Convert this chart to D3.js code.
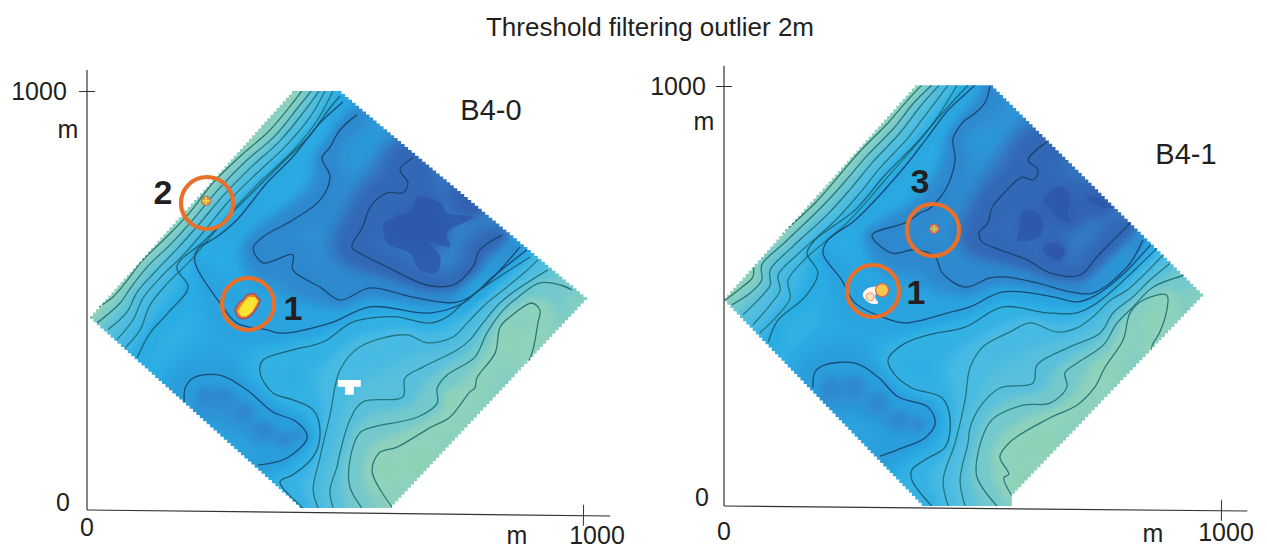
<!DOCTYPE html>
<html><head><meta charset="utf-8">
<script src="https://cdn.jsdelivr.net/npm/d3@7/dist/d3.min.js"></script>
<style>html,body{margin:0;background:#fff}svg{display:block}text{font-family:"Liberation Sans",Arial,sans-serif;fill:#231f20}</style>
</head><body><svg id="c" width="1267" height="549"></svg>
<script>
// ---------- Panel B4-0: isolines, in metres [x, y]
const a_E1=[[12,477],[52,508],[77,542],[113,597],[161,652],[208,711],[254,781],[308,843],[369,907],[415,972],[433,1000]];
const a_E2=[[20,446],[67,494],[89,532],[123,582],[171,637],[218,699],[264,764],[319,831],[379,893],[425,960],[452,1000]];
const a_E3=[[42,430],[81,473],[101,520],[137,568],[183,625],[228,685],[276,752],[329,816],[389,881],[437,950],[468,1000]];
const a_E4=[[60,406],[93,454],[113,506],[149,556],[196,611],[240,671],[288,740],[341,802],[401,869],[450,938],[480,1000]];
const a_E5=[[77,387],[107,430],[127,489],[163,542],[210,597],[254,659],[302,726],[353,788],[413,855],[462,926],[496,1000]];
const a_E6=[[101,363],[127,422],[163,470],[204,532],[181,580],[238,644],[308,728],[389,823],[450,895],[490,960],[510,988]];
const a_L6=[[516,974],[470,924],[415,843],[363,781],[302,692],[262,652],[222,621],[218,590],[268,494],[302,446],[363,430],[389,422],[490,446],[571,485],[691,470],[758,494],[818,556],[887,621]];
const a_L7=[[544,943],[510,907],[490,866],[474,840],[490,795],[470,740],[415,692],[355,652],[335,625],[355,590],[415,609],[415,573],[470,532],[510,501],[571,530],[657,508],[746,496],[798,532],[873,628]];
const a_L8=[[657,840],[631,812],[647,781],[637,757],[605,757],[571,723],[556,676],[534,628],[550,613],[605,580],[685,537],[738,537],[778,580],[792,621],[837,656]];
const a_L5=[[435,5],[389,67],[415,84],[456,127],[470,184],[456,239],[415,263],[375,279],[349,327],[355,358],[415,382],[476,401],[536,449],[597,461],[625,461],[691,446],[726,461],[772,508],[893,604]];
const a_L4=[[466,5],[456,48],[470,127],[490,227],[510,334],[550,389],[645,418],[685,399],[738,413],[766,446],[806,494],[839,525],[883,568],[909,597]];
const a_L3=[[496,5],[490,48],[504,103],[510,136],[530,215],[556,258],[637,270],[641,315],[677,341],[746,382],[772,406],[798,446],[839,501],[929,573]];
const a_L2=[[554,5],[530,55],[530,119],[550,184],[577,198],[667,222],[706,255],[706,291],[726,322],[782,365],[806,422],[839,477],[867,506],[913,542],[954,537],[978,525]];
const a_T=[[615,7],[575,91],[589,136],[625,150],[691,196],[732,222],[772,282],[782,291],[786,315],[823,375],[833,437],[853,461],[897,494],[913,477],[909,446],[899,382],[883,334]];
const a_D=[[345,107],[403,124],[444,174],[423,210],[375,234],[323,286],[268,322],[214,315],[198,291],[196,258]];
const a_outline=[[413,1000],[506,1000],[1008,501],[615,5],[435,5],[6,463]];
const a_seeds=[[16,470,.3],[26,496,.4],[127,625,.4],[228,757,.4],[329,888,.4],[409,990,.4],[732,263,.4],[853,406,.5],[671,119,.4],[601,100,.4],[984,501,1.5],[591,24,1.5],[671,716,8.4],[641,680,8.4],[691,656,8.4],[772,742,8.3],[238,274,7],[278,274,7],[319,239,7],[359,191,7],[399,167,7],[429,179,7]];
const a_patch=[[[599,685],[621,699],[655,716],[667,747],[712,733],[726,709],[778,699],[726,661],[732,628],[685,644],[712,604],[706,568],[671,573],[651,613],[605,637]]];
// ---------- Panel B4-1
const b_E1=[[2,490],[36,521],[58,545],[62,586],[109,640],[183,721],[229,783],[270,840],[330,912],[370,967],[398,1002]];
const b_E2=[[16,479],[56,510],[76,538],[76,574],[121,626],[195,710],[241,769],[284,829],[342,900],[382,960],[418,1002]];
const b_E3=[[38,455],[72,495],[93,526],[93,562],[135,614],[209,695],[256,757],[298,817],[354,888],[394,950],[433,1002]];
const b_E4=[[58,431],[93,479],[113,514],[109,550],[149,600],[225,681],[272,743],[314,805],[370,876],[410,938],[451,1002]];
const b_E5=[[72,412],[109,455],[133,495],[129,538],[165,590],[243,669],[290,729],[334,790],[388,862],[431,929],[469,1002]];
const b_E6=[[89,390],[109,443],[163,498],[189,555],[167,602],[183,633],[264,705],[324,788],[384,860],[445,943],[491,1002]];
const b_L6=[[505,1002],[479,974],[451,943],[410,879],[358,800],[264,681],[209,633],[199,602],[237,538],[264,483],[318,450],[364,436],[451,460],[495,474],[561,510],[662,498],[710,486],[742,498],[797,545],[861,626]];
const b_L7=[[535,1000],[525,960],[495,926],[485,919],[461,876],[465,824],[445,752],[410,705],[398,700],[364,674],[298,645],[338,602],[384,610],[425,593],[439,555],[485,521],[535,543],[569,545],[630,531],[696,510],[742,507],[811,569],[843,633]];
const b_L8=[[650,867],[612,824],[632,800],[622,776],[600,783],[569,752],[539,710],[531,674],[513,650],[519,629],[555,610],[610,586],[656,555],[716,550],[750,593],[783,633],[817,674]];
const b_L5=[[418,0],[378,62],[378,86],[410,114],[445,140],[455,205],[439,257],[378,281],[344,312],[330,348],[358,383],[410,407],[485,426],[561,474],[650,460],[710,460],[750,483],[811,545],[871,614]];
const b_L4=[[451,0],[441,62],[465,150],[485,252],[495,329],[521,379],[575,414],[616,436],[670,414],[710,424],[742,450],[777,490],[811,514],[887,602]];
const b_L3=[[485,0],[475,62],[491,150],[495,186],[515,236],[555,281],[622,293],[630,336],[696,379],[757,412],[783,460],[823,498],[857,538],[901,581]];
const b_L2=[[549,0],[509,69],[511,126],[539,205],[602,240],[656,245],[690,283],[686,317],[710,340],[763,383],[791,436],[823,474],[863,521],[928,550]];
const b_T=[[581,21],[563,67],[573,76],[555,117],[575,152],[656,210],[710,240],[746,283],[767,331],[803,395],[817,460],[843,490],[891,502],[891,467],[877,414],[861,379],[867,360]];
const b_D=[[314,119],[358,138],[404,162],[425,198],[410,236],[350,260],[310,307],[264,340],[203,336],[183,319],[179,281]];
const b_outline=[[384,1002],[535,1002],[964,498],[579,21],[579,0],[404,0],[0,495]];
const b_seeds=[[22,521,.4],[113,645,.4],[213,776,.4],[314,907,.4],[384,995,.4],[757,324,.4],[857,443,.5],[636,157,.4],[596,62,.5],[948,498,1.5],[575,2,1.5],[616,674,8.4],[670,721,8.4],[690,698,8.4],[662,605,8.4],[750,724,8.3],[213,288,7],[264,288,7],[314,252,7],[354,205,7],[394,193,7]];
const b_patch=[[[600,698],[620,705],[642,674],[632,640],[590,633],[596,664]],[[642,721],[656,748],[676,760],[696,740],[692,698],[696,674],[672,688],[656,712]],[[642,610],[662,626],[686,610],[676,586],[656,593]],[[730,733],[750,736],[783,710],[763,710]]];
// ---------- level of each isoline (order of the lists below)
const lineLevels=[1,2,3,3.7,4.3,5,6,7,8,4.6,3.8,3,2,1,6.2];
const linesA=[a_E1,a_E2,a_E3,a_E4,a_E5,a_E6,a_L6,a_L7,a_L8,a_L5,a_L4,a_L3,a_L2,a_T,a_D];
const linesB=[b_E1,b_E2,b_E3,b_E4,b_E5,b_E6,b_L6,b_L7,b_L8,b_L5,b_L4,b_L3,b_L2,b_T,b_D];
const levelStops=[0,1,2,3,4,5,6,7,8,9];
const levelColors=["#8ad0ae","#90d2bb","#74c9cc","#58c0dc","#44b9e4","#29ace3","#2aa3df","#2f88cd","#3268b6","#2d55a6"];
// ---------- outliers
const a_blobOuter=[[298,477],[306,494],[314,501],[322,513],[337,517],[349,501],[345,487],[339,477],[331,465],[323,458],[312,456],[304,461]];
const a_blobInner=[[304,473],[312,490],[319,500],[327,509],[338,508],[345,499],[338,484],[333,473],[322,463],[312,462]];
const a_hole=[[506,310],[552,310],[552,294],[538,294],[538,275],[520,275],[520,294],[506,294]];
const a_cross=[240,738];
const b_white=[[280,507],[290,519],[310,521],[304,498],[310,483],[294,483],[280,498]];
const b_ring=[294,498];
const b_yellow=[318,514];
const b_cross=[423,660];
// ---------- labels
const titleText="Threshold filtering outlier 2m";
const axisEnds=[0,1000];
const unitLabel="m";

const svg=d3.select("#c");
const defs=svg.append("defs");
defs.append("filter").attr("id","soft").attr("x","-5%").attr("y","-5%").attr("width","110%").attr("height","110%")
  .append("feGaussianBlur").attr("stdDeviation",2);
const color=d3.scaleLinear().domain(levelStops).range(levelColors).interpolate(d3.interpolateRgb);
const smooth=d3.line().curve(d3.curveCatmullRom.alpha(.5));

function stairs(poly){
  const out=[];
  poly.forEach((p,i)=>{
    const q=poly[(i+1)%poly.length],dx=q[0]-p[0],dy=q[1]-p[1];
    const n=Math.max(1,Math.round(Math.hypot(dx,dy)/4.6));
    for(let k=0;k<n;k++){
      const ax=p[0]+dx*k/n,ay=p[1]+dy*k/n,bx=p[0]+dx*(k+1)/n;
      out.push([ax,ay],[bx,ay]);
    }
  });
  return "M"+out.map(d=>d.join(",")).join("L")+"Z";
}

function panel(cfg){
  const x=d3.scaleLinear().domain([0,1000]).range([cfg.ox,cfg.ox+cfg.w]);
  const y=d3.scaleLinear().domain([0,1000]).range([cfg.oy,cfg.oy-cfg.h]);
  const P=d=>[x(d[0]),y(d[1])];
  const g=svg.append("g");
  const outline=cfg.outline.map(P);
  const id="clip"+cfg.id;
  defs.append("clipPath").attr("id",id).append("path").attr("d",stairs(outline));

  // depth surface: weighted from the isolines and the read spot depths
  const samples=[];
  cfg.lines.forEach((ln,i)=>{
    const pp=ln.map(P);
    for(let k=0;k<pp.length-1;k++){
      const n=Math.max(1,Math.round(Math.hypot(pp[k+1][0]-pp[k][0],pp[k+1][1]-pp[k][1])/5));
      for(let t=0;t<n;t++) samples.push([pp[k][0]+(pp[k+1][0]-pp[k][0])*t/n,pp[k][1]+(pp[k+1][1]-pp[k][1])*t/n,lineLevels[i]]);
    }
  });
  cfg.seeds.forEach(s=>{const p=P(s);for(let r=0;r<2;r++)samples.push([p[0],p[1],s[2]]);});
  const X0=d3.min(outline,d=>d[0])-8,X1=d3.max(outline,d=>d[0])+8,Y0=d3.min(outline,d=>d[1])-8,Y1=d3.max(outline,d=>d[1])+8;
  const cell=2.5,cw=Math.ceil((X1-X0)/cell),ch=Math.ceil((Y1-Y0)/cell);
  const cv=document.createElement("canvas");cv.width=cw;cv.height=ch;
  const ctx=cv.getContext("2d"),img=ctx.createImageData(cw,ch);
  const N=samples.length;
  for(let j=0;j<ch;j++)for(let i=0;i<cw;i++){
    const px=X0+(i+.5)*cell,py=Y0+(j+.5)*cell;
    if(!d3.polygonContains(outline,[px,py])){
      let near=false;
      for(let v=0;v<outline.length&&!near;v++){
        const a=outline[v],b=outline[(v+1)%outline.length],dx=b[0]-a[0],dy=b[1]-a[1];
        const t=Math.max(0,Math.min(1,((px-a[0])*dx+(py-a[1])*dy)/(dx*dx+dy*dy)));
        near=Math.hypot(px-a[0]-t*dx,py-a[1]-t*dy)<14;
      }
      if(!near)continue;
    }
    let sw=0,sv=0;
    for(let n=0;n<N;n++){
      const s=samples[n],dx=s[0]-px,dy=s[1]-py,d2=dx*dx+dy*dy+16,w=1/(d2*d2);
      sw+=w;sv+=w*s[2];
    }
    const c=d3.rgb(color(sv/sw)),o=(j*cw+i)*4;
    img.data[o]=c.r;img.data[o+1]=c.g;img.data[o+2]=c.b;img.data[o+3]=255;
  }
  ctx.putImageData(img,0,0);
  const gc=g.append("g").attr("clip-path",`url(#${id})`);
  gc.append("image").attr("x",X0).attr("y",Y0).attr("width",cw*cell).attr("height",ch*cell)
    .attr("preserveAspectRatio","none").attr("href",cv.toDataURL()).attr("filter","url(#soft)");
  gc.selectAll("path.patch").data(cfg.patches).join("path").attr("class","patch")
    .attr("d",d=>d3.line().curve(d3.curveCatmullRomClosed)(d.map(P))).attr("fill","#2d56a7").attr("fill-opacity",.8);
  gc.selectAll("path.iso").data(cfg.lines).join("path").attr("class","iso")
    .attr("d",d=>smooth(d.map(P))).attr("fill","none")
    .attr("stroke",(d,i)=>lineLevels[i]<4.5?"#1d6f76":lineLevels[i]<5.5?"#1a5a70":"#16416c")
    .attr("stroke-width",1.3).attr("stroke-opacity",.9);

  cfg.draw(g,P,cfg);

  // axes
  const ax=g.append("g").attr("transform",`rotate(${cfg.slant},${cfg.ox},${cfg.oy})`);
  ax.append("line").attr("x1",x(0)).attr("x2",x(cfg.xEnd)).attr("y1",cfg.oy).attr("y2",cfg.oy).attr("stroke","#333").attr("stroke-width",1.2);
  const xa=ax.append("g").attr("transform",`translate(0,${cfg.oy})`).call(d3.axisBottom(x).tickValues([axisEnds[1]]).tickSize(10).tickFormat(""));
  xa.select(".domain").remove();xa.selectAll("line").attr("y1",-11).attr("stroke","#333");
  const ya=g.append("g").attr("transform",`translate(${cfg.ox},0)`).call(d3.axisLeft(y).tickValues([axisEnds[1]]).tickSize(8).tickFormat(""));
  ya.select(".domain").remove();ya.selectAll("line").attr("x2",-8).attr("x1",8).attr("stroke","#333");
  g.append("line").attr("x1",cfg.ox).attr("x2",cfg.ox).attr("y1",y(cfg.yEnd)).attr("y2",cfg.oy).attr("stroke","#333").attr("stroke-width",1.2);

  const T=(s,px,py,size,w)=>g.append("text").text(s).attr("x",px).attr("y",py).attr("font-size",size).attr("text-anchor","middle").attr("font-weight",w||400);
  cfg.labels.forEach(l=>T(l[0],l[1],l[2],25));
  T(cfg.name,cfg.nameAt[0],cfg.nameAt[1],29);
  cfg.marks.forEach(m=>{
    g.append("circle").attr("cx",m[1]).attr("cy",m[2]).attr("r",26).attr("fill","none").attr("stroke","#e8702a").attr("stroke-width",4.2);
    T(m[0],m[3],m[4],34,700);
  });
}

function crossMark(g,p,ring,fill,cross){
  g.append("circle").attr("cx",p[0]).attr("cy",p[1]).attr("r",4.5).attr("fill",fill).attr("stroke",ring).attr("stroke-width",1.2);
  g.append("path").attr("d",`M${p[0]-4},${p[1]}H${p[0]+4}M${p[0]},${p[1]-4}V${p[1]+4}`).attr("stroke",cross).attr("stroke-width",1.3);
}
const closed=d3.line().curve(d3.curveCatmullRomClosed);

panel({id:"A",ox:87,oy:510,w:496,h:419,slant:.657,xEnd:1055,yEnd:1050,lines:linesA,seeds:a_seeds,outline:a_outline,patches:a_patch,
  name:"B4-0",nameAt:[491,120],
  labels:[["1000",39,100],[unitLabel,68,138],["0",63,511],["0",87,536],[unitLabel,517,543.5],["1000",597,543.5]],
  marks:[["2",207,203,163,204],["1",248,304,293,320]],
  draw(g,P){
    g.append("path").attr("d","M"+a_hole.map(P).join("L")+"Z").attr("fill","#fff");
    g.append("path").attr("d","M"+a_blobOuter.map(P).join("L")+"Z").attr("fill","#ee7f22").attr("stroke","#a5486f").attr("stroke-width",1.4).attr("stroke-linejoin","round");
    g.append("path").attr("d","M"+a_blobInner.map(P).join("L")+"Z").attr("fill","#ffe431");
    crossMark(g,P(a_cross),"#b5705a","#dc9a48","#f4e04a");
  }});
panel({id:"B",ox:724,oy:506,w:497,h:420,slant:.55,xEnd:1053,yEnd:1048,lines:linesB,seeds:b_seeds,outline:b_outline,patches:b_patch,
  name:"B4-1",nameAt:[1186,164],
  labels:[["1000",678,95],[unitLabel,704,130],["0",702,506],["0",724,540],[unitLabel,1153,542],["1000",1226,541]],
  marks:[["3",933,230,920,193],["1",873,291,916,304]],
  draw(g,P){
    g.append("path").attr("d",closed(b_white.map(P))).attr("fill","#fff6f0");
    const r=P(b_ring),yl=P(b_yellow);
    g.append("circle").attr("cx",r[0]).attr("cy",r[1]).attr("r",4).attr("fill","#fde3c2").attr("stroke","#f09a6a").attr("stroke-width",1);
    g.append("circle").attr("cx",yl[0]).attr("cy",yl[1]).attr("r",6.5).attr("fill","#f8c94a").attr("stroke","#e2694a").attr("stroke-width",1.2);
    crossMark(g,P(b_cross),"#d9534f","#d98a70","#b8dc55");
  }});

svg.append("text").text(titleText).attr("x",650).attr("y",36).attr("font-size",26).attr("text-anchor","middle");
</script></body></html>
